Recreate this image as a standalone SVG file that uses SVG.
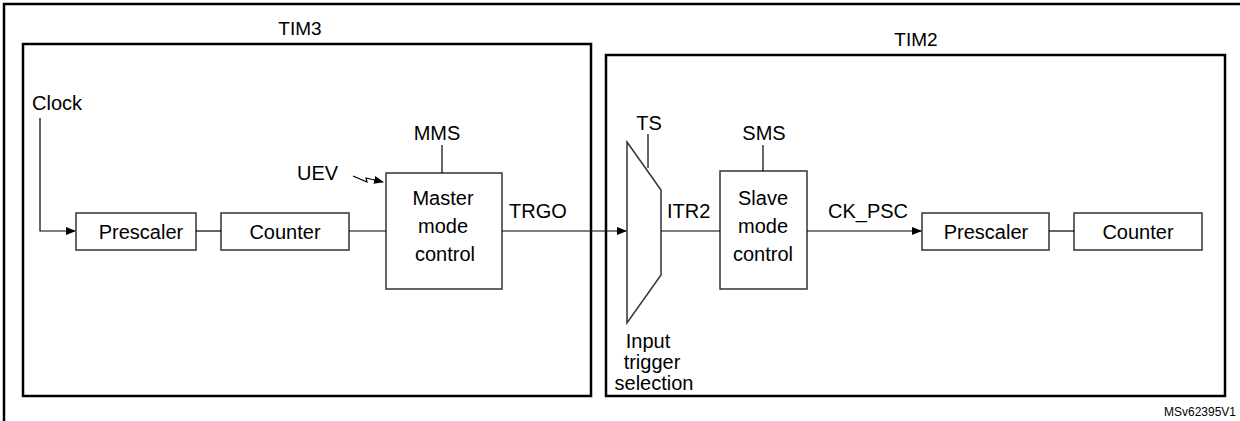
<svg xmlns="http://www.w3.org/2000/svg" width="1240" height="421" viewBox="0 0 1240 421">
<style>
text{font-family:"Liberation Sans",Arial,sans-serif;font-size:20px;fill:#000}
.c{text-anchor:middle}
.b{fill:#fff;stroke:#333;stroke-width:1.5}
.f{fill:none;stroke:#000;stroke-width:2.5}
.l{fill:none;stroke:#000;stroke-width:1.2}
</style>
<defs><marker id="a" markerWidth="10" markerHeight="8" refX="9" refY="4" orient="auto" markerUnits="userSpaceOnUse"><path d="M0,0L10,4L0,8z" fill="#000"/></marker></defs>
<path class="f" d="M4,421V4H1240"/>
<g id="tim3"><rect class="f" x="23" y="44" width="568" height="352"/><text class="c" x="300" y="35" style="font-size:19px">TIM3</text></g>
<g id="tim2"><rect class="f" x="606" y="55" width="619" height="341"/><text class="c" x="916" y="46" style="font-size:19px">TIM2</text></g>
<g id="clock"><text x="32" y="110">Clock</text></g>
<g id="prescaler1"><rect class="b" x="76" y="213" width="120" height="37"/><text class="c" x="141" y="239">Prescaler</text></g>
<g id="counter1"><rect class="b" x="221" y="213" width="128" height="37"/><text class="c" x="285" y="239">Counter</text></g>
<g id="master"><rect class="b" x="386" y="173" width="116" height="116"/><text class="c" x="443" y="205">Master</text><text class="c" x="443" y="233">mode</text><text class="c" x="445" y="261">control</text></g>
<g id="mms"><text class="c" x="437" y="140">MMS</text></g>
<g id="uev"><text x="297" y="180">UEV</text></g>
<g id="trgo"><text x="509" y="218">TRGO</text></g>
<g id="mux"><path class="b" d="M627,142L661,190V275L627,323Z"/><text class="c" x="649" y="130">TS</text><text class="c" x="648" y="348">Input</text><text class="c" x="652" y="369">trigger</text><text class="c" x="654" y="390">selection</text></g>
<g id="itr2"><text x="667" y="218">ITR2</text></g>
<g id="slave"><rect class="b" x="720" y="171" width="87" height="118"/><text class="c" x="763" y="205">Slave</text><text class="c" x="763" y="233">mode</text><text class="c" x="763" y="261">control</text></g>
<g id="sms"><text class="c" x="764" y="140">SMS</text></g>
<g id="ckpsc"><text x="828" y="218">CK_PSC</text></g>
<g id="prescaler2"><rect class="b" x="922" y="213" width="127" height="37"/><text class="c" x="986" y="239">Prescaler</text></g>
<g id="counter2"><rect class="b" x="1074" y="213" width="128" height="37"/><text class="c" x="1138" y="239">Counter</text></g>
<g id="connectors">
<path class="l" d="M40,118V231H75" marker-end="url(#a)"/>
<path class="l" d="M196,231H221"/>
<path class="l" d="M349,231H386"/>
<path class="l" d="M442,145V173"/>
<path class="l" d="M353,176L367,182L366,178L383,182" marker-end="url(#a)"/>
<path class="l" d="M502,231H626" marker-end="url(#a)"/>
<path class="l" d="M648,134V168"/>
<path class="l" d="M661,231H720"/>
<path class="l" d="M763,145V171"/>
<path class="l" d="M807,231H921" marker-end="url(#a)"/>
<path class="l" d="M1049,231H1074"/>
</g>
<text x="1236" y="416" style="font-size:12px;text-anchor:end">MSv62395V1</text>
</svg>
